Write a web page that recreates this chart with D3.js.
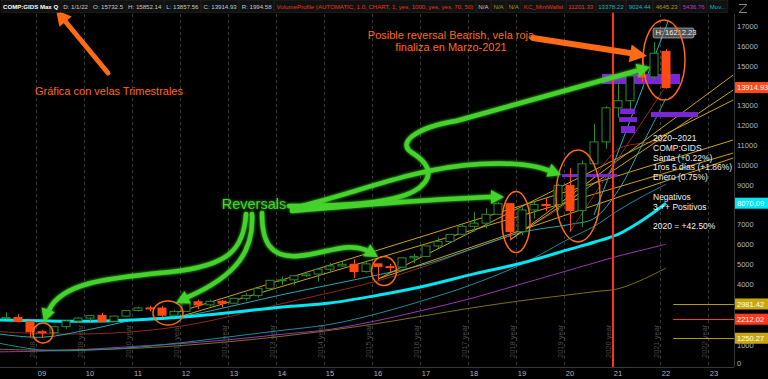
<!DOCTYPE html>
<html>
<head>
<meta charset="utf-8">
<script src="https://cdnjs.cloudflare.com/ajax/libs/d3/7.8.5/d3.min.js"></script>
<style>
  html, body { margin: 0; padding: 0; background: #000; overflow: hidden; }
  svg { display: block; font-family: "Liberation Sans", Arial, sans-serif; }
</style>
</head>
<body>
<svg id="chart" width="768" height="379"></svg>
<script>
'use strict';

// ---- data: quarterly candles (index 0 = 2009 Q1) ----
var quarters = [
  '2008 Q1','2008 Q2','2008 Q3','2008 Q4','2009 Q1','2009 Q2','2009 Q3','2009 Q4',
  '2010 Q1','2010 Q2','2010 Q3','2010 Q4','2011 Q1','2011 Q2','2011 Q3','2011 Q4',
  '2012 Q1','2012 Q2','2012 Q3','2012 Q4','2013 Q1','2013 Q2','2013 Q3','2013 Q4',
  '2014 Q1','2014 Q2','2014 Q3','2014 Q4','2015 Q1','2015 Q2','2015 Q3','2015 Q4',
  '2016 Q1','2016 Q2','2016 Q3','2016 Q4','2017 Q1','2017 Q2','2017 Q3','2017 Q4',
  '2018 Q1','2018 Q2','2018 Q3','2018 Q4','2019 Q1','2019 Q2','2019 Q3','2019 Q4',
  '2020 Q1','2020 Q2','2020 Q3','2020 Q4','2021 Q1','2021 Q2','2021 Q3','2021 Q4',
  '2022 Q1'
];
var opens = [
  2653.91, 2279.10, 2292.98, 2091.88, 1577.03, 1528.59, 1835.04, 2122.42,
  2269.15, 2397.96, 2109.24, 2368.62, 2652.87, 2781.07, 2773.52, 2415.40,
  2605.15, 3091.57, 2935.05, 3116.23, 3019.51, 3267.52, 3403.25, 3771.48,
  4176.59, 4198.99, 4408.18, 4493.39, 4736.05, 4900.88, 4986.87, 4620.16,
  5007.41, 4869.85, 4842.67, 5312.00, 5383.12, 5911.74, 6140.42, 6495.96,
  6903.39, 7063.45, 7510.30, 8046.35, 6635.28, 7729.32, 8006.24, 7999.34,
  8972.60, 7700.10, 10058.77, 11167.51, 12888.28, 13246.87, 14503.95, 14448.58,
  15732.50
];
var highs = [
  2661.50, 2551.47, 2472.78, 2116.12, 1667.01, 1880.24, 2167.73, 2328.34,
  2423.80, 2535.28, 2380.64, 2675.26, 2840.51, 2887.75, 2878.94, 2698.07,
  3134.17, 3196.93, 3196.93, 3183.95, 3275.80, 3532.04, 3798.29, 4177.73,
  4371.71, 4417.25, 4610.57, 4814.95, 5042.14, 5164.36, 5231.94, 5176.77,
  5007.41, 5012.42, 5342.88, 5512.37, 5928.06, 6341.70, 6500.00, 7003.89,
  7637.27, 7806.60, 8133.30, 8048.19, 7863.45, 8176.08, 8339.64, 9052.00,
  9838.37, 10221.85, 12074.06, 12973.33, 14175.12, 14572.75, 15403.44, 16212.23,
  15852.14
];
var lows = [
  2155.42, 2243.73, 2050.00, 1295.48, 1265.52, 1493.52, 1727.05, 2024.23,
  2100.17, 2061.14, 2091.79, 2330.69, 2603.50, 2609.04, 2298.89, 2335.83,
  2590.61, 2726.68, 2855.15, 2810.80, 3019.51, 3154.96, 3294.95, 3708.67,
  3946.03, 3946.03, 4352.64, 4116.60, 4563.11, 4844.41, 4292.14, 4565.32,
  4209.76, 4574.25, 4822.90, 5034.41, 5371.90, 5805.15, 6081.96, 6494.21,
  6630.67, 6805.88, 7485.63, 6190.17, 6457.13, 7292.22, 7662.90, 7700.10,
  6631.42, 6857.76, 10004.31, 10822.57, 12397.05, 12806.55, 14181.70, 14338.24,
  13857.56
];
var closes = [
  2279.10, 2292.98, 2091.88, 1577.03, 1528.59, 1835.04, 2122.42, 2269.15,
  2397.96, 2109.24, 2368.62, 2652.87, 2781.07, 2773.52, 2415.40, 2605.15,
  3091.57, 2935.05, 3116.23, 3019.51, 3267.52, 3403.25, 3771.48, 4176.59,
  4198.99, 4408.18, 4493.39, 4736.05, 4900.88, 4986.87, 4620.16, 5007.41,
  4869.85, 4842.67, 5312.00, 5383.12, 5911.74, 6140.42, 6495.96, 6903.39,
  7063.45, 7510.30, 8046.35, 6635.28, 7729.32, 8006.24, 7999.34, 8972.60,
  7700.10, 10058.77, 11167.51, 12888.28, 13246.87, 14503.95, 14448.58, 15644.97,
  13914.93
];
var firstIndex = -4; // 2008 Q1 sits four quarters before 2009 Q1

// ---- moving averages (quarter index -> value) ----
var maKnots  = [-4, 0, 4, 8, 12, 16, 20, 24, 28, 32, 36, 40, 44, 46, 48, 50, 52];
var maCyan   = [2180, 2130, 2110, 2180, 2330, 2560, 2830, 3030, 3420, 3900, 4500, 5050, 5750, 6100, 6500, 7200, 8070];
var maRed    = [1600, 1480, 1470, 1600, 1900, 2400, 3000, 3550, 4150, 4900, 5800, 6700, 8200, 9400, 10800, 11100, 11200];
var maTeal1  = [1500, 1300, 1700, 2200, 2400, 2900, 3450, 3950, 4450, 5000, 5800, 6600, 7000, 7300, 8700, 11000, 13378];
var maTeal2  = [1050, 650, 650, 800, 1050, 1350, 1650, 1950, 2500, 3200, 4000, 5000, 6300, 6900, 7700, 8400, 9024];
var maOlive  = [700, 650, 680, 750, 900, 1100, 1350, 1650, 2000, 2400, 2800, 3150, 3450, 3600, 3750, 4200, 4800];
var maPurple = [560, 600, 700, 850, 1000, 1200, 1450, 1700, 2150, 2700, 3300, 4000, 4700, 5050, 5400, 5700, 6000];

// ---- drawn trend lines: [startIndex, startPrice, endIndex, endPrice] ----
var goldLines = [
  [11.1, 2525, 57.6, 11263],
  [11.1, 2273, 57.6, 10606],
  [28, 4242, 57.6, 13283],
  [28, 4242, 57.6, 10354],
  [39, 6212, 57.6, 14545],
  [39, 6212, 57.6, 13788]
];
var cyanTrend = [46, 7475, 52.2, 17300];
var redTrend = [44, 6631, 52, 14000];

// ---- volume profile blocks ----
var vpLow   = [14090, 12575, 12170, 11616, 12424, 9394];
var vpHigh  = [14600, 12850, 12420, 11970, 12676, 9545];
var vpStart = [46.67, 48.17, 48.08, 48.25, 50.75, 43.33];
var vpEnd   = [53.17, 49.42, 49.58, 49.42, 54.67, 47.92];

// ---- horizontal levels (right bottom) ----
var levelValues = [2981.42, 2212.02, 1250.27];
var levelColors = ['#b39a16', '#ff3a1c', '#b39a16'];

// ---- axes ----
var yTicks = d3.range(0, 17001, 1000);
var xTickYears = ['09','10','11','12','13','14','15','16','17','18','19','20','21','22','23'];
var yearLineLabels = [2008, 2009, 2010, 2011, 2012, 2013, 2014, 2015, 2016, 2017, 2018, 2019, 2020, 2021, 2022];

// ---- header legend ----
var headerTexts = ['COMP:GIDS Max Q', 'D: 1/1/22', 'O: 15732.5', 'H: 15852.14', 'L: 13857.56', 'C: 13914.93', 'R: 1994.58',
  'VolumeProfile (AUTOMATIC, 1.0, CHART, 1, yes, 1000, yes, yes, 70, 50)', 'N/A', 'N/A', 'N/A', 'KC_MiniWallst',
  '11201.33', '13378.22', '9024.44', '4645.23', '5436.76', 'Mov...'];
var headerColors = ['#ffffff', '#c9c9c9', '#c9c9c9', '#c9c9c9', '#c9c9c9', '#c9c9c9', '#c9c9c9',
  '#e5391d', '#c9c9c9', '#a8961e', '#a8961e', '#e5391d',
  '#e5391d', '#19b2c0', '#19b2c0', '#a8961e', '#b03fcf', '#19b2c0'];

var infoLines = ['2020--2021', 'COMP:GIDS', 'Santa (+0.22%)', '1ros 5 días (+1.86%)', 'Enero (0.75%)', '',
  'Negativos', '3 ++ Positivos', '', '2020 = +42.50%'];

// ---- layout ----
var plotRight = 734, plotBottom = 367;
var x = d3.scaleLinear().domain([0, 52]).range([42, 666]);
var y = d3.scaleLinear().domain([0, 17000]).range([363, 26.4]);

var svg = d3.select('#chart');
var defs = svg.append('defs');
defs.append('clipPath').attr('id', 'plotclip')
  .append('rect').attr('x', 0).attr('y', 0).attr('width', plotRight).attr('height', plotBottom);
var glow = defs.append('filter').attr('id', 'glow').attr('x', '-20%').attr('y', '-20%').attr('width', '140%').attr('height', '140%');
glow.append('feGaussianBlur').attr('in', 'SourceGraphic').attr('stdDeviation', 1.6).attr('result', 'b');
var fm = glow.append('feMerge');
fm.append('feMergeNode').attr('in', 'b');
fm.append('feMergeNode').attr('in', 'SourceGraphic');

svg.append('rect').attr('width', 768).attr('height', 379).attr('fill', '#000');

var plot = svg.append('g').attr('clip-path', 'url(#plotclip)');

// year separators (dashed) + rotated labels
yearLineLabels.forEach(function(yr) {
  var gx = Math.round(x(4 * (yr + 1 - 2009) - 0.5)) + 0.5;
  plot.append('line').attr('x1', gx).attr('x2', gx).attr('y1', 14).attr('y2', plotBottom)
    .attr('stroke', '#3b3b3b').attr('stroke-dasharray', '3,3');
  plot.append('text').attr('transform', 'translate(' + (gx - 2) + ',358) rotate(-90)')
    .attr('font-size', 7.5).attr('fill', '#4d4d4d').text(yr + ' year');
});

// moving averages
var maLine = d3.line().x(function(d) { return x(d[0]); }).y(function(d) { return y(d[1]); })
  .curve(d3.curveCatmullRom.alpha(0.5));
function drawMA(vals, color, width) {
  plot.append('path').datum(maKnots.map(function(k, i) { return [k, vals[i]]; }))
    .attr('d', maLine).attr('fill', 'none').attr('stroke', color).attr('stroke-width', width);
}
drawMA(maPurple, '#9c35b3', 1);
drawMA(maOlive, '#7f711b', 1);
drawMA(maTeal2, '#1a8d9c', 1);
drawMA(maRed, '#8d2a1a', 1);
drawMA(maTeal1, '#1fa9b6', 1);

// trend lines
function drawTrend(t, color, width) {
  plot.append('line').attr('x1', x(t[0])).attr('y1', y(t[1])).attr('x2', x(t[2])).attr('y2', y(t[3]))
    .attr('stroke', color).attr('stroke-width', width);
}
goldLines.forEach(function(t) { drawTrend(t, '#c9a31b', 1); });
drawTrend(redTrend, '#8d2a1a', 1);
drawTrend(cyanTrend, '#1fb6c4', 1);

// volume profile blocks
plot.selectAll('rect.vp').data(vpLow).enter().append('rect').attr('class', 'vp')
  .attr('x', function(d, i) { return x(vpStart[i]); })
  .attr('width', function(d, i) { return x(vpEnd[i]) - x(vpStart[i]); })
  .attr('y', function(d, i) { return y(vpHigh[i]); })
  .attr('height', function(d, i) { return y(vpLow[i]) - y(vpHigh[i]); })
  .attr('fill', '#7a25d8');

// thick cyan MA on top of the thin lines
drawMA(maCyan, '#00e6f2', 3);

// candles
var candles = quarters.map(function(q, i) {
  return { q: q, i: i + firstIndex, o: opens[i], h: highs[i], l: lows[i], c: closes[i] };
});
var upCol = '#2b8a33', downCol = '#ff4a14', bodyW = 9;
var cg = plot.selectAll('g.candle').data(candles).enter().append('g').attr('class', 'candle');
cg.append('line')
  .attr('x1', function(d) { return Math.round(x(d.i)) + 0.5; })
  .attr('x2', function(d) { return Math.round(x(d.i)) + 0.5; })
  .attr('y1', function(d) { return y(d.h); })
  .attr('y2', function(d) { return y(d.l); })
  .attr('stroke', function(d) { return d.c >= d.o ? upCol : downCol; });
cg.append('rect')
  .attr('x', function(d) { return Math.round(x(d.i)) - 4; })
  .attr('width', bodyW - 1)
  .attr('y', function(d) { return y(Math.max(d.o, d.c)); })
  .attr('height', function(d) { return Math.max(1, Math.abs(y(d.o) - y(d.c))); })
  .attr('fill', function(d) { return d.c >= d.o ? '#000' : downCol; })
  .attr('stroke', function(d) { return d.c >= d.o ? upCol : downCol; })
  .attr('stroke-width', 1);

// high label
var hiIdx = d3.maxIndex(highs);
var hx = x(hiIdx + firstIndex), hy = y(highs[hiIdx]);
plot.append('rect').attr('x', hx - 1).attr('y', hy - 14).attr('width', 41).attr('height', 10).attr('rx', 2)
  .attr('fill', 'rgba(150,150,150,0.55)').attr('stroke', '#cfcfcf').attr('stroke-width', 0.6);
plot.append('text').attr('x', hx + 1.5).attr('y', hy - 6.5).attr('font-size', 7.5).attr('fill', '#ededed')
  .text('H: ' + d3.format('.2f')(highs[hiIdx]));

// horizontal levels
levelValues.forEach(function(v, i) {
  plot.append('line').attr('x1', x(52.6)).attr('x2', plotRight).attr('y1', Math.round(y(v)) + 0.5).attr('y2', Math.round(y(v)) + 0.5)
    .attr('stroke', levelColors[i]).attr('stroke-width', 1.2);
});

// red vertical marker at start of 2021
var rx = x(47.5) + 1;
plot.append('line').attr('x1', rx).attr('x2', rx).attr('y1', 12).attr('y2', plotBottom)
  .attr('stroke', '#ff3218').attr('stroke-width', 2);

// ---- annotations ----
var ann = svg.append('g');
var orange = '#ff6a14', green = '#44d22c';

function arrowHead(g, tip, dir, len, half, color) {
  var a = Math.atan2(dir[1], dir[0]);
  var bx = tip[0] - len * Math.cos(a), by = tip[1] - len * Math.sin(a);
  var px = -Math.sin(a) * half, py = Math.cos(a) * half;
  g.append('path').attr('d', 'M' + tip[0] + ',' + tip[1] + 'L' + (bx + px) + ',' + (by + py) + 'L' + (bx - px) + ',' + (by - py) + 'Z')
    .attr('fill', color);
}

// ellipses around reversals
[[43, 333, 10, 10], [168, 313, 15, 12], [384, 271, 12.5, 14.5], [516, 222, 14, 30.5], [578, 196, 22, 46], [664, 60, 21, 40]]
  .forEach(function(e) {
    ann.append('ellipse').attr('cx', e[0]).attr('cy', e[1]).attr('rx', e[2]).attr('ry', e[3])
      .attr('fill', 'none').attr('stroke', orange).attr('stroke-width', 1.5);
  });

// green arrows
var ga = ann.append('g').attr('filter', 'url(#glow)');
var greenArrows = [
  { d: 'M289,206 C340,206 398,204 419,188 C438,173 424,160 411,152 C398,143 414,128 456,121 L636,71', tip: [650, 67], dir: [193, -54] },
  { d: 'M292,208 C350,196 410,168 480,164 C515,162 538,166 550,171', tip: [561, 175], dir: [10, 4] },
  { d: 'M292,211 C360,205 430,199 492,197', tip: [504, 197], dir: [1, 0] },
  { d: 'M246,214 C244,250 228,266 170,272 C110,278 62,282 49,310', tip: [44, 322], dir: [-0.35, 1] },
  { d: 'M252,214 C254,250 238,275 188,297', tip: [176, 303], dir: [-1, 0.5] },
  { d: 'M262,213 C262,242 270,258 298,256 C325,254 345,242 366,250', tip: [378, 257], dir: [1, 0.6] }
];
greenArrows.forEach(function(a) {
  ga.append('path').attr('d', a.d).attr('fill', 'none').attr('stroke', green).attr('stroke-width', 4.5)
    .attr('stroke-linecap', 'round').attr('stroke-linejoin', 'round');
  arrowHead(ga, a.tip, a.dir, 13, 7, green);
});
ga.append('text').attr('x', 254).attr('y', 209).attr('text-anchor', 'middle').attr('font-size', 14.5)
  .attr('fill', green).text('Reversals');

// orange arrows + notes
ann.append('path').attr('d', 'M108,73 L65,21').attr('stroke', orange).attr('stroke-width', 5).attr('stroke-linecap', 'round');
arrowHead(ann, [56, 10], [-0.64, -0.77], 15, 8, orange);
ann.append('path').attr('d', 'M533,38 L630,53').attr('stroke', orange).attr('stroke-width', 6).attr('stroke-linecap', 'round');
arrowHead(ann, [647, 56], [1, 0.16], 17, 9, orange);

ann.append('text').attr('x', 109).attr('y', 95).attr('text-anchor', 'middle').attr('font-size', 11)
  .attr('fill', orange).text('Gráfica con velas Trimestrales');
ann.append('text').attr('x', 451).attr('y', 39).attr('text-anchor', 'middle').attr('font-size', 11)
  .attr('fill', orange).text('Posible reversal Bearish, vela roja');
ann.append('text').attr('x', 451).attr('y', 51).attr('text-anchor', 'middle').attr('font-size', 11)
  .attr('fill', orange).text('finaliza en Marzo-2021');

// info block
infoLines.forEach(function(t, i) {
  if (!t) return;
  ann.append('text').attr('x', 653).attr('y', 141 + i * 9.8).attr('font-size', 8.5).attr('fill', '#f2f2f2').text(t);
});

// ---- axes ----
svg.append('line').attr('x1', plotRight + 0.5).attr('x2', plotRight + 0.5).attr('y1', 14).attr('y2', plotBottom)
  .attr('stroke', '#3a3a3a');
svg.append('line').attr('x1', 0).attr('x2', plotRight).attr('y1', plotBottom + 0.5).attr('y2', plotBottom + 0.5)
  .attr('stroke', '#3a3a3a');

// price boxes on the right scale
var boxes = [
  [closes[closes.length - 1], '#ff4a14', '#ffffff'],
  [maCyan[maCyan.length - 1] + 0.09, '#00e6f2', '#ffffff'],
  [levelValues[0], '#c9a80c', '#ffffff'],
  [levelValues[1], '#ff3a1c', '#ffffff'],
  [levelValues[2], '#c9a80c', '#ffffff']
];

// tick labels hidden where a price box sits on top of them
var visibleTicks = yTicks.filter(function(t) {
  return boxes.every(function(b) { return Math.abs(y(t) - y(b[0])) > 5.5 || t === 1000; });
});
svg.append('g').selectAll('text').data(visibleTicks).enter().append('text')
  .attr('x', 737).attr('y', function(d) { return y(d) + (d === 1000 ? 5.2 : 2.7); })
  .attr('font-size', 7.5).attr('fill', '#b4b7bf').text(function(d) { return d; });

svg.append('g').selectAll('text').data(xTickYears).enter().append('text')
  .attr('x', function(d, i) { return x(i * 4); }).attr('y', 376)
  .attr('text-anchor', 'middle').attr('font-size', 7.5).attr('fill', '#b4b7bf').text(function(d) { return d; });

boxes.forEach(function(b) {
  var by = y(b[0]);
  svg.append('rect').attr('x', 735).attr('y', by - 5.5).attr('width', 33).attr('height', 11).attr('fill', b[1]);
  svg.append('text').attr('x', 737).attr('y', by + 2.7).attr('font-size', 7.5).attr('fill', b[2])
    .text(d3.format('.2f')(b[0]));
});

// ---- header legend ----
var hdr = svg.append('g');
var hx0 = 1;
headerTexts.forEach(function(t, i) {
  var tx = hdr.append('text').attr('x', hx0 + 2).attr('y', 8.5).attr('font-size', 6.1).attr('fill', headerColors[i])
    .attr('font-weight', i === 0 ? 'bold' : 'normal').text(t);
  var w = tx.node().getComputedTextLength();
  hdr.insert('rect', 'text').attr('x', hx0).attr('y', 0.5).attr('width', w + 4).attr('height', 12)
    .attr('fill', '#111').attr('stroke', '#262626').attr('stroke-width', 0.6);
  hx0 += w + 5;
});
// expand icon
svg.append('path').attr('d', 'M739,4 L747,4 L747,5 L740,12 L747,12 L747,13 L739,13 L739,12 L746,5 L739,5 Z')
  .attr('fill', '#8a8a8a');
</script>
</body>
</html>
